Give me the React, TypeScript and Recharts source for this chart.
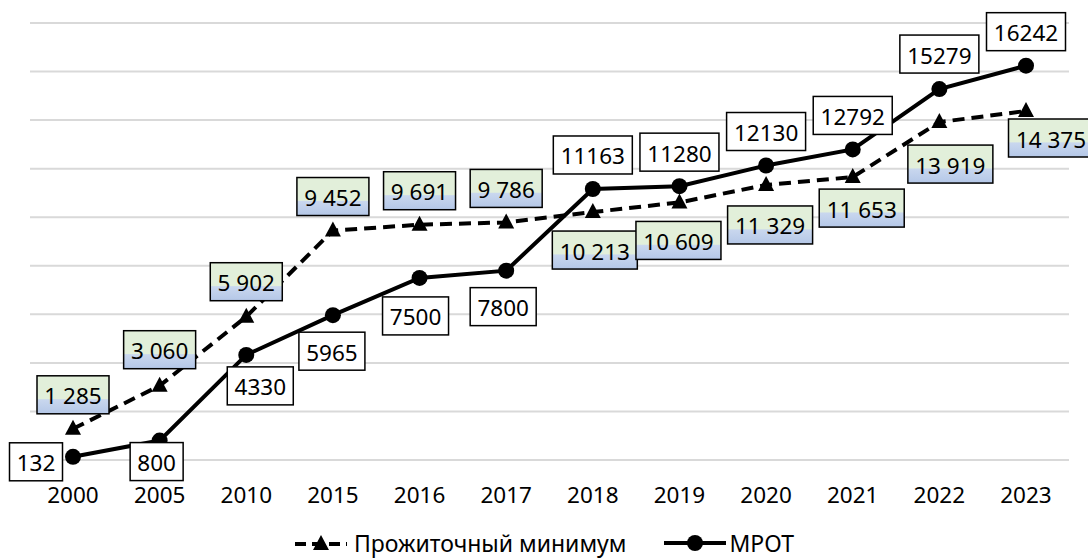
import React from "react"
import {
  LineChart,
  Line,
  XAxis,
  YAxis,
  CartesianGrid,
  Legend,
  LabelList,
} from "recharts"

const FONT = "'Noto Sans', 'Open Sans', sans-serif"

const years = ["2000", "2005", "2010", "2015", "2016", "2017", "2018", "2019", "2020", "2021", "2022", "2023"]
const livingWage = [1285, 3060, 5902, 9452, 9691, 9786, 10213, 10609, 11329, 11653, 13919, 14375]
const minWage = [132, 800, 4330, 5965, 7500, 7800, 11163, 11280, 12130, 12792, 15279, 16242]
const yTicks = [0, 2000, 4000, 6000, 8000, 10000, 12000, 14000, 16000, 18000]

// label box offsets from the point (dx, dy), one per year
const livingOffsets = [
  [0, -34], [0, -36], [0, -35], [0, -34], [0, -34], [0, -34],
  [2, 38], [-1, 38], [4, 40], [9, 31], [11, 42], [25, 27],
]
const minOffsets = [
  [-37, 5], [-3, 21], [14, 31], [-1, 36], [-4, 38], [-3, 36],
  [0, -34], [0, -34], [0, -34], [0, -34], [0, -35], [0, -34],
]

const data = years.map((year, i) => ({
  year,
  living: livingWage[i],
  mrot: minWage[i],
}))

const spaced = (v: number) => String(v).replace(/\B(?=(\d{3})+(?!\d))/g, " ")

// eslint-disable-next-line @typescript-eslint/no-explicit-any
const BoxLabel = ({ x, y, value, index, offsets, spacedText, boxFill }: any) => {
  const text = spacedText ? spaced(value) : String(value)
  const digits = text.replace(/\s/g, "").length
  const spaces = text.length - digits
  const w = digits * 13 + spaces * 6 + 14
  const h = 38
  const [dx, dy] = offsets[index]
  const cx = x + dx
  const cy = y + dy
  return (
    <g>
      <rect
        x={cx - w / 2}
        y={cy - h / 2}
        width={w}
        height={h}
        fill={boxFill}
        stroke="#000"
        strokeWidth={1.5}
      />
      <text
        x={cx}
        y={cy + 1}
        textAnchor="middle"
        dominantBaseline="central"
        fontFamily={FONT}
        fontSize={22.5}
        fill="#000"
      >
        {text}
      </text>
    </g>
  )
}

// eslint-disable-next-line @typescript-eslint/no-explicit-any
const Triangle = ({ cx, cy }: any) => (
  <polygon
    points={`${cx},${cy - 9} ${cx - 8},${cy + 6} ${cx + 8},${cy + 6}`}
    fill="#000"
  />
)

// eslint-disable-next-line @typescript-eslint/no-explicit-any
const Dot = ({ cx, cy }: any) => <circle cx={cx} cy={cy} r={8} fill="#000" />

const LegendContent = () => (
  <div
    style={{
      display: "flex",
      justifyContent: "center",
      alignItems: "center",
      height: 30,
      fontFamily: FONT,
      fontSize: 23,
      lineHeight: "30px",
      color: "#000",
    }}
  >
    <svg width={54} height={20}>
      <line x1={1} y1={11} x2={53} y2={11} stroke="#000" strokeWidth={4} strokeDasharray="11 6" />
      <polygon points="27,2 19,17 35,17" fill="#000" />
    </svg>
    <span style={{ marginLeft: 6 }}>Прожиточный минимум</span>
    <svg width={62} height={20} style={{ marginLeft: 38 }}>
      <line x1={0} y1={10} x2={62} y2={10} stroke="#000" strokeWidth={4} />
      <circle cx={31} cy={10} r={8} fill="#000" />
    </svg>
    <span style={{ marginLeft: 3 }}>МРОТ</span>
  </div>
)

export default function App() {
  return (
    <div style={{ position: "absolute", left: 0, top: 0, background: "#fff" }}>
      <LineChart
        width={1088}
        height={559}
        data={data}
        margin={{ top: 23, right: 19, left: 30, bottom: 0 }}
      >
        <defs>
          <linearGradient id="greenBlue" x1="0" y1="0" x2="0" y2="1">
            <stop offset="0" stopColor="#E2EFDA" />
            <stop offset="0.6" stopColor="#E2EFDA" />
            <stop offset="0.63" stopColor="#C9D7EE" />
            <stop offset="1" stopColor="#B4C7E7" />
          </linearGradient>
        </defs>
        <CartesianGrid vertical={false} stroke="#d9d9d9" strokeWidth={2} />
        <XAxis
          dataKey="year"
          height={69}
          padding={{ left: 43, right: 43 }}
          axisLine={{ stroke: "#d9d9d9", strokeWidth: 2 }}
          tickLine={false}
          tickMargin={21}
          tick={{ fontFamily: FONT, fontSize: 22.5, fill: "#000" }}
          interval={0}
        />
        <YAxis hide domain={[0, 18000]} ticks={yTicks} />
        <Legend
          verticalAlign="bottom"
          content={<LegendContent />}
          wrapperStyle={{ left: 0, width: 1088, top: 528 }}
        />
        <Line
          dataKey="living"
          name="Прожиточный минимум"
          stroke="#000"
          strokeWidth={4}
          strokeDasharray="12 7"
          dot={<Triangle />}
          activeDot={false}
          isAnimationActive={false}
        >
          <LabelList
            dataKey="living"
            content={<BoxLabel offsets={livingOffsets} spacedText boxFill="url(#greenBlue)" />}
          />
        </Line>
        <Line
          dataKey="mrot"
          name="МРОТ"
          stroke="#000"
          strokeWidth={4}
          dot={<Dot />}
          activeDot={false}
          isAnimationActive={false}
        >
          <LabelList
            dataKey="mrot"
            content={<BoxLabel offsets={minOffsets} boxFill="#fff" />}
          />
        </Line>
      </LineChart>
    </div>
  )
}
